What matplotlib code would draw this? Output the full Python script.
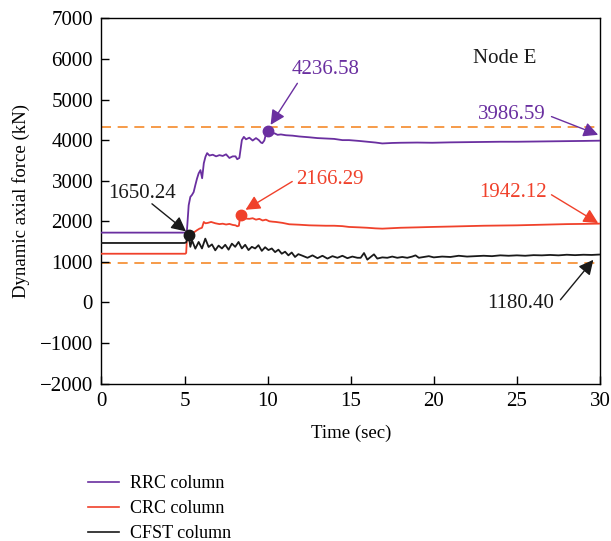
import matplotlib
matplotlib.use("Agg")
import matplotlib.pyplot as plt
from matplotlib.lines import Line2D

plt.rcParams["font.family"] = ["Liberation Serif", "DejaVu Serif"]
plt.rcParams["font.size"] = 13

# 色
purple = "#6a2fa0"
red = "#f0412b"
black = "#1a1a1a"
orange = "#f58a2a"

# RRC column
t_rrc = [0, 5.1, 5.15, 5.25, 5.35, 5.45, 5.55, 5.65, 5.75, 5.85, 5.96, 6.06, 6.16, 6.26, 6.36,
         6.5, 6.7, 6.9, 7.1, 7.3, 7.5, 7.7, 7.9, 8.07, 8.17, 8.3, 8.45, 8.57, 8.7, 8.9,
         9.1, 9.3, 9.47, 9.6, 9.68, 9.8, 9.9, 10.0, 10.2, 10.4, 10.6, 10.8, 11.1, 11.5, 11.9,
         12.5, 13.0, 13.5, 14.0, 14.5, 14.9, 15.5, 16.0, 16.5, 16.9, 17.5, 18.0, 19.0, 19.9,
         21, 22, 23, 24, 25, 26, 27, 28, 29, 30]
v_rrc = [1720, 1720, 1800, 2395, 2600, 2650, 2720, 2890, 3050, 3180, 3260, 3060, 3430, 3590, 3680,
         3620, 3640, 3600, 3630, 3610, 3650, 3560, 3600, 3600, 3530, 3560, 4000, 4080, 4020, 4060,
         3990, 4050, 4000, 3940, 3925, 3990, 4150, 4236.58, 4150, 4170, 4130, 4140, 4120, 4110, 4090,
         4070, 4050, 4040, 4030, 4000, 4000, 3980, 3960, 3940, 3918, 3930, 3935, 3940, 3935,
         3945, 3950, 3955, 3960, 3960, 3965, 3970, 3975, 3980, 3986.59]

# CRC column
t_crc = [0, 5.05, 5.1, 5.15, 5.3, 5.45, 5.6, 5.75, 5.9, 6.05, 6.16, 6.26, 6.4, 6.6, 6.86,
         7.1, 7.3, 7.5, 7.7, 7.9, 8.07, 8.17, 8.27, 8.37, 8.5, 8.7, 8.9, 9.1, 9.3, 9.5,
         9.7, 9.9, 10.1, 10.3, 10.5, 10.9, 11.3, 11.9, 12.5, 13.0, 13.5, 14.0, 14.5, 14.9,
         15.5, 16.0, 16.5, 16.9, 17.5, 18.0, 19.0, 19.9, 21, 22, 23, 24, 25, 26, 27, 28, 29, 30]
v_crc = [1200, 1200, 1220, 1612, 1654, 1700, 1736, 1780, 1818, 1840, 1983, 1950, 1960, 1983, 1950,
         1930, 1940, 1920, 1935, 1910, 1900, 1876, 1890, 2166.29, 2080, 2066, 2060, 2075, 2040, 2060,
         2020, 2040, 2000, 1990, 1983, 1960, 1926, 1915, 1900, 1895, 1890, 1890, 1880, 1860,
         1850, 1840, 1825, 1818, 1830, 1840, 1850, 1860, 1870, 1880, 1890, 1895, 1900, 1910, 1920,
         1930, 1935, 1942.12]

# CFST column
t_cfst = [0, 5.0, 5.1, 5.2, 5.25, 5.35, 5.45, 5.65, 5.85, 6.05, 6.25, 6.45, 6.65, 6.85, 7.05,
          7.25, 7.45, 7.65, 7.85, 8.05, 8.25, 8.45, 8.65, 8.85, 9.05, 9.25, 9.45, 9.65, 9.85,
          10.05, 10.25, 10.45, 10.65, 10.85, 11.05, 11.25, 11.45, 11.65, 11.85, 12.1, 12.4, 12.7,
          13.0, 13.3, 13.6, 13.9, 14.2, 14.5, 14.8, 15.1, 15.4, 15.6, 15.8, 16.0, 16.2, 16.4,
          16.6, 16.9, 17.2, 17.5, 17.8, 18.1, 18.4, 18.7, 18.9, 19.1, 19.4, 19.7, 20.0, 20.5,
          21, 21.5, 22, 22.5, 23, 23.5, 24, 24.5, 25, 25.5, 26, 26.5, 27, 27.5, 28, 28.5, 29,
          29.5, 30]
v_cfst = [1465, 1465, 1480, 1620, 1650.24, 1370, 1530, 1325, 1490, 1330, 1572, 1366, 1430, 1284, 1400,
          1330, 1420, 1300, 1449, 1370, 1490, 1330, 1420, 1290, 1370, 1330, 1410, 1270, 1360,
          1290, 1330, 1240, 1300, 1200, 1250, 1160, 1230, 1120, 1190, 1150, 1100, 1160,
          1090, 1150, 1080, 1140, 1100, 1150, 1090, 1130, 1100, 1100, 1217, 1054, 1120, 1185,
          1080, 1110, 1100, 1130, 1100, 1120, 1100, 1130, 1160, 1100, 1120, 1140, 1110, 1130,
          1120, 1150, 1130, 1140, 1150, 1140, 1160, 1150, 1160, 1150, 1165, 1160, 1170, 1160, 1175, 1165, 1175,
          1170, 1180.40]

# 破線の基準値
limits = [4330, 960]

fig = plt.figure(figsize=(6.11, 5.41), dpi=100)
ax = fig.add_axes([0.166, 0.291, 0.816, 0.675])

for y in limits:
    ax.axhline(y, color=orange, lw=1.2, ls=(0, (6, 4)), zorder=1)

ax.plot(t_rrc, v_rrc, color=purple, lw=1.3, zorder=3)
ax.plot(t_crc, v_crc, color=red, lw=1.3, zorder=3)
ax.plot(t_cfst, v_cfst, color=black, lw=1.3, zorder=4)

# ピーク点
ax.plot(10.0, 4236.58, "o", color=purple, ms=7.5, zorder=5)
ax.plot(8.37, 2166.29, "o", color=red, ms=7.5, zorder=5)
ax.plot(5.25, 1650.24, "o", color=black, ms=7.5, zorder=5)

# 注記(文字, 文字位置, 矢印の根元, 矢印の先, 色)
def note(txt, pos, tail, head, c):
    ax.annotate("", xy=head, xytext=tail,
                arrowprops=dict(arrowstyle="-|>", color=c, lw=1.0, mutation_scale=22,
                                shrinkA=0, shrinkB=0))
    ax.text(pos[0], pos[1], txt, color=c, fontsize=15, ha="center", va="center")

note("1650.24", (2.44, 2680), (3.04, 2430), (5.09, 1750), black)
note("4236.58", (13.5, 5730), (11.79, 5400), (10.18, 4377), purple)
note("2166.29", (13.75, 3020), (11.48, 2980), (8.67, 2283), red)
note("3986.59", (24.7, 4620), (27.08, 4580), (29.89, 4130), purple)
note("1942.12", (24.74, 2700), (27.08, 2653), (29.89, 1955), red)
note("1180.40", (25.2, -20), (27.62, 66), (29.6, 1050), black)

ax.text(24.26, 6000, "Node E", color=black, fontsize=15, ha="center", va="center")

ax.set_xlim(0, 30)
ax.set_ylim(-2000, 7000)
ax.set_xticks(range(0, 31, 5))
ax.set_yticks(range(-2000, 7001, 1000))
ax.tick_params(direction="in", length=6, width=1, labelsize=15, pad=6,
               top=False, right=False)
for s in ax.spines.values():
    s.set_linewidth(1.0)
ax.set_xlabel("Time (sec)", fontsize=13.5, labelpad=10)
ax.set_ylabel("Dynamic axial force (kN)", fontsize=13.5, labelpad=7)

handles = [Line2D([], [], color=purple, lw=1.2),
           Line2D([], [], color=red, lw=1.2),
           Line2D([], [], color=black, lw=1.2)]
fig.legend(handles, ["RRC column", "CRC column", "CFST column"],
           loc="upper left", bbox_to_anchor=(0.133, 0.135), frameon=False,
           handlelength=1.7, handletextpad=0.6, labelspacing=0.45, fontsize=13,
           borderaxespad=0)

plt.savefig("out.png", dpi=100)
